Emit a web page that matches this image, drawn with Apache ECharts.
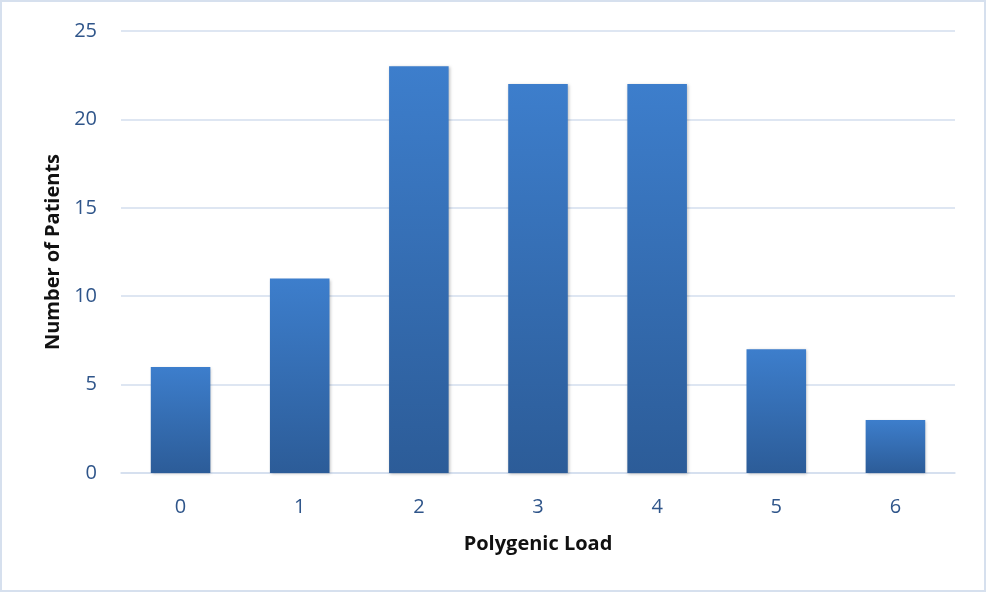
<!DOCTYPE html>
<html><head><meta charset="utf-8">
<script src="https://cdn.jsdelivr.net/npm/echarts@6/dist/echarts.min.js"></script>
<style>html,body{margin:0;padding:0;background:#fff}#c{width:986px;height:592px;box-sizing:border-box;border:2px solid #d6e0ee}</style>
</head><body><div id="c"></div>
<script>
const categories = ['0','1','2','3','4','5','6'];
const patients = [6, 11, 23, 22, 22, 7, 3];
const xTitle = 'Polygenic Load';
const yTitle = 'Number of Patients';

const chart = echarts.init(document.getElementById('c'), null, {renderer:'canvas'});
const labelColor = '#2f558a';
chart.setOption({
  animation:false,
  grid:{left:119, right:29, top:29, bottom:117, containLabel:false},
  xAxis:{type:'category', data:categories,
    name:xTitle, nameLocation:'middle', nameGap:61,
    nameTextStyle:{fontFamily:'Open Sans', fontWeight:'bold', fontSize:20, color:'#111'},
    axisLine:{lineStyle:{color:'#d3deee', width:1.5}}, axisTick:{show:false},
    axisLabel:{fontFamily:'Open Sans', fontSize:20, color:labelColor, margin:24}},
  yAxis:{type:'value', min:0, max:25, interval:5,
    name:yTitle, nameLocation:'middle', nameGap:58, nameRotate:90,
    nameTextStyle:{fontFamily:'Open Sans', fontWeight:'bold', fontSize:20, color:'#111'},
    axisLine:{show:false}, axisTick:{show:false},
    splitLine:{lineStyle:{color:'#d3deee', width:1.5}},
    axisLabel:{fontFamily:'Open Sans', fontSize:20, color:labelColor, margin:24}},
  series:[{type:'bar', data:patients, barWidth:'50%',
    itemStyle:{
      color:new echarts.graphic.LinearGradient(0,0,0,1,[{offset:0,color:'#3d7ecc'},{offset:1,color:'#2c5c98'}]),
      shadowColor:'rgba(0,0,0,0.25)', shadowBlur:3, shadowOffsetX:1, shadowOffsetY:1}
  }]
});
</script></body></html>
